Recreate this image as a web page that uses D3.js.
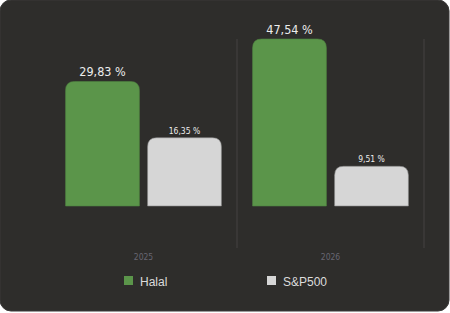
<!DOCTYPE html>
<html>
<head>
<meta charset="utf-8">
<script src="https://cdn.jsdelivr.net/npm/d3@7"></script>
<style>
  html, body { margin: 0; padding: 0; background: #ffffff; }
  svg { display: block; }
</style>
</head>
<body>
<div id="chart"></div>
<script>
// chart data
const years = ["2025", "2026"];
const seriesNames = ["Halal", "S&P500"];
const halalValues = [29.83, 47.54];
const spValues = [16.35, 9.51];
const valueLabels = [["29,83 %", "16,35 %"], ["47,54 %", "9,51 %"]];

const colors = { "Halal": "#5b954a", "S&P500": "#d6d6d6" };
const narrowFont = "'DejaVu Sans Condensed', 'DejaVu Sans', sans-serif";

const width = 450, height = 313;
const margins = { top: 39, left: 50, right: 26, bottom: 107 };

const svg = d3.select("#chart").append("svg")
    .attr("width", width)
    .attr("height", height);

// card background
svg.append("rect")
    .attr("x", 0).attr("y", 0)
    .attr("width", 449).attr("height", 311)
    .attr("rx", 11)
    .attr("fill", "#2e2d2b")
    .attr("stroke", "#3a3938")
    .attr("stroke-width", 1);

const rows = years.map((y, i) => ({
    year: y,
    values: [
        { name: seriesNames[0], value: halalValues[i], label: valueLabels[i][0] },
        { name: seriesNames[1], value: spValues[i], label: valueLabels[i][1] }
    ]
}));

const x0 = d3.scaleBand()
    .domain(years)
    .range([margins.left, width - margins.right]);

const x1 = d3.scaleBand()
    .domain(seriesNames)
    .range([0, x0.bandwidth()])
    .paddingInner(0.1)
    .paddingOuter(0.19);

const baseY = height - margins.bottom;
const y = d3.scaleLinear()
    .domain([0, 40])
    .range([baseY, margins.top])
    .clamp(true);

// vertical separators
svg.selectAll("line.sep")
    .data(years)
    .enter()
    .append("line")
    .attr("class", "sep")
    .attr("x1", d => x0(d) + x0.bandwidth())
    .attr("x2", d => x0(d) + x0.bandwidth())
    .attr("y1", margins.top)
    .attr("y2", 248)
    .attr("stroke", "#444342")
    .attr("stroke-width", 1);

// rounded-top bar path
function barPath(x, yTop, w, h, r) {
    r = Math.min(r, h, w / 2);
    return `M${x},${yTop + h}V${yTop + r}Q${x},${yTop} ${x + r},${yTop}` +
        `H${x + w - r}Q${x + w},${yTop} ${x + w},${yTop + r}V${yTop + h}Z`;
}

const groups = svg.selectAll("g.year")
    .data(rows)
    .enter()
    .append("g")
    .attr("class", "year")
    .attr("transform", d => `translate(${x0(d.year)},0)`);

groups.selectAll("path")
    .data(d => d.values)
    .enter()
    .append("path")
    .attr("d", d => barPath(x1(d.name), y(d.value), x1.bandwidth(), baseY - y(d.value), 9))
    .attr("fill", d => colors[d.name])
    .attr("stroke", d => d.name === "Halal" ? "#4f8540" : "#8a8a8a")
    .attr("stroke-width", 0.6);

groups.selectAll("text.val")
    .data(d => d.values)
    .enter()
    .append("text")
    .attr("class", "val")
    .attr("x", d => x1(d.name) + x1.bandwidth() / 2)
    .attr("y", d => y(d.value) - (d.name === "Halal" ? 5 : 4))
    .attr("text-anchor", "middle")
    .attr("font-family", narrowFont)
    .attr("font-size", d => d.name === "Halal" ? 12.5 : 8.5)
    .attr("fill", "#ececec")
    .text(d => d.label);

// x axis labels
svg.selectAll("text.year")
    .data(years)
    .enter()
    .append("text")
    .attr("class", "year")
    .attr("x", d => x0(d) + x0.bandwidth() / 2)
    .attr("y", 260)
    .attr("text-anchor", "middle")
    .attr("font-family", narrowFont)
    .attr("font-size", 8.5)
    .attr("fill", "#676672")
    .text(d => d);

// legend
const legendX = [124, 267];
const legend = svg.selectAll("g.legend")
    .data(seriesNames)
    .enter()
    .append("g")
    .attr("class", "legend")
    .attr("transform", (d, i) => `translate(${legendX[i]},276)`);

legend.append("rect")
    .attr("width", 9).attr("height", 9)
    .attr("fill", d => colors[d]);

legend.append("text")
    .attr("x", 16)
    .attr("y", 9.5)
    .attr("font-family", "'Liberation Sans', Arial, sans-serif")
    .attr("font-size", 12)
    .attr("fill", "#dcdcdc")
    .text(d => d);
</script>
</body>
</html>
